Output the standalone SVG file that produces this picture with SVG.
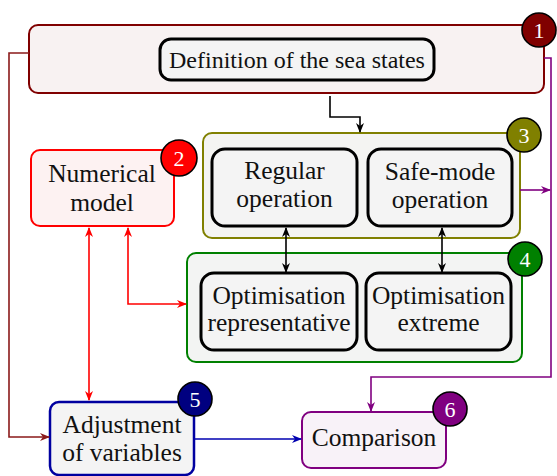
<svg xmlns="http://www.w3.org/2000/svg" width="557" height="476" viewBox="0 0 557 476">
<style>
.t{font-family:"Liberation Serif",serif;font-size:25.5px;fill:#111;text-anchor:middle}
.n{font-family:"Liberation Serif",serif;font-size:22px;fill:#fff;text-anchor:middle}
.inner{fill:#f4f4f4;stroke:#000;stroke-width:3}
.c{fill:none;stroke-width:1.6}
.badge{stroke:#000;stroke-width:1.6}
</style>
<defs>
<marker id="ak" markerWidth="10" markerHeight="8" refX="9" refY="4" orient="auto-start-reverse" markerUnits="userSpaceOnUse"><path d="M0,0 L10,4 L0,8 L3,4 z" fill="#000"/></marker>
<marker id="ar" markerWidth="10" markerHeight="8" refX="9" refY="4" orient="auto-start-reverse" markerUnits="userSpaceOnUse"><path d="M0,0 L10,4 L0,8 L3,4 z" fill="#ff0000"/></marker>
<marker id="am" markerWidth="10" markerHeight="8" refX="9" refY="4" orient="auto-start-reverse" markerUnits="userSpaceOnUse"><path d="M0,0 L10,4 L0,8 L3,4 z" fill="#8b1a1a"/></marker>
<marker id="ab" markerWidth="10" markerHeight="8" refX="9" refY="4" orient="auto-start-reverse" markerUnits="userSpaceOnUse"><path d="M0,0 L10,4 L0,8 L3,4 z" fill="#0000b0"/></marker>
<marker id="ap" markerWidth="10" markerHeight="8" refX="9" refY="4" orient="auto-start-reverse" markerUnits="userSpaceOnUse"><path d="M0,0 L10,4 L0,8 L3,4 z" fill="#800080"/></marker>
</defs>

<g id="node1">
<rect x="29" y="25" width="515" height="68" rx="9" fill="#f8f2f2" stroke="#800000" stroke-width="2"/>
<circle class="badge" cx="539" cy="30" r="17" fill="#800000"/>
<text class="n" x="539" y="38">1</text>
</g>
<g id="sea-states">
<rect class="inner" x="160" y="39" width="274" height="41" rx="11"/>
<text class="t" x="297" y="68" style="font-size:24px">Definition of the sea states</text>
</g>

<g id="node2">
<rect x="31" y="150" width="143" height="76" rx="9" fill="#fdf2f2" stroke="#ff0000" stroke-width="2"/>
<circle class="badge" cx="179" cy="158" r="18" fill="#ff0000"/>
<text class="n" x="179" y="166">2</text>
<text class="t" x="102" y="182">Numerical</text>
<text class="t" x="102" y="211">model</text>
</g>

<g id="node3">
<rect x="203" y="133" width="317" height="105" rx="9" fill="#f4f4f2" stroke="#808000" stroke-width="2"/>
<circle class="badge" cx="524" cy="135" r="17" fill="#808000"/>
<text class="n" x="524" y="143">3</text>
</g>
<g id="regular">
<rect class="inner" x="212" y="149" width="145" height="77" rx="13"/>
<text class="t" x="284.5" y="179">Regular</text>
<text class="t" x="284.5" y="207">operation</text>
</g>
<g id="safe-mode">
<rect class="inner" x="368" y="149" width="144" height="77" rx="13"/>
<text class="t" x="440" y="180">Safe-mode</text>
<text class="t" x="440" y="208">operation</text>
</g>

<g id="node4">
<rect x="187" y="253" width="335" height="109" rx="9" fill="#f3f4f3" stroke="#008000" stroke-width="2"/>
<circle class="badge" cx="525" cy="259" r="17" fill="#008000"/>
<text class="n" x="525" y="267">4</text>
</g>
<g id="opt-representative">
<rect class="inner" x="201" y="273" width="156" height="77" rx="13"/>
<text class="t" x="279" y="304">Optimisation</text>
<text class="t" x="279" y="331">representative</text>
</g>
<g id="opt-extreme">
<rect class="inner" x="366" y="273" width="145" height="77" rx="13"/>
<text class="t" x="438.5" y="304">Optimisation</text>
<text class="t" x="438.5" y="331">extreme</text>
</g>

<g id="node5">
<rect x="50" y="402" width="144" height="73" rx="9" fill="#f4f4f4" stroke="#0000a0" stroke-width="2.5"/>
<circle class="badge" cx="195" cy="399" r="17" fill="#000080"/>
<text class="n" x="195" y="407">5</text>
<text class="t" x="122" y="433">Adjustment</text>
<text class="t" x="122" y="461">of variables</text>
</g>

<g id="node6">
<rect x="302" y="412" width="144" height="56" rx="9" fill="#f8f2f8" stroke="#800080" stroke-width="2"/>
<circle class="badge" cx="450" cy="409" r="17" fill="#800080"/>
<text class="n" x="450" y="417">6</text>
<text class="t" x="374" y="446">Comparison</text>
</g>

<g id="connectors">
<path class="c" d="M29,53 H9 V437 H49" stroke="#8b1a1a" marker-end="url(#am)"/>
<path class="c" d="M330,96 V117 H360 V132" stroke="#000" marker-end="url(#ak)"/>
<path class="c" d="M286,228 V272" stroke="#000" marker-start="url(#ak)" marker-end="url(#ak)"/>
<path class="c" d="M442,228 V272" stroke="#000" marker-start="url(#ak)" marker-end="url(#ak)"/>
<path class="c" d="M89,228 V400" stroke="#ff0000" marker-start="url(#ar)" marker-end="url(#ar)"/>
<path class="c" d="M128,228 V304 H186" stroke="#ff0000" marker-start="url(#ar)" marker-end="url(#ar)"/>
<path class="c" d="M194,439 H301" stroke="#0000b0" marker-end="url(#ab)"/>
<path class="c" d="M544,58 H551 V377 H371 V411" stroke="#800080" marker-end="url(#ap)"/>
<path class="c" d="M520,190 H550" stroke="#800080" marker-end="url(#ap)"/>
</g>
</svg>
